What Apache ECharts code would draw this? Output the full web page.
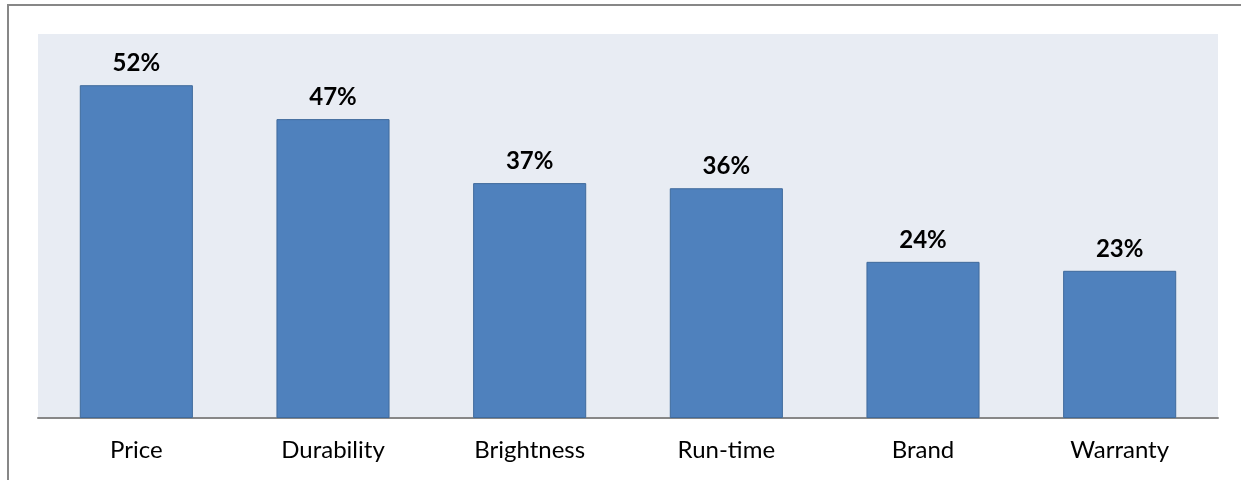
<!DOCTYPE html>
<html>
<head>
<meta charset="utf-8">
<script src="https://cdn.jsdelivr.net/npm/echarts@6/dist/echarts.min.js"></script>
<style>
  html, body { margin: 0; padding: 0; background: #ffffff; }
  #chart { width: 1241px; height: 480px; }
</style>
</head>
<body>
<div id="chart"></div>
<script>
const categories = ['Price', 'Durability', 'Brightness', 'Run-time', 'Brand', 'Warranty'];
const shares = [0.520, 0.467, 0.367, 0.359, 0.244, 0.230];

const chart = echarts.init(document.getElementById('chart'), null, { renderer: 'canvas' });
chart.setOption({
  animation: false,
  backgroundColor: '#ffffff',
  graphic: [{
    type: 'rect',
    shape: { x: 8, y: 5, width: 1300, height: 600 },
    style: { fill: 'none', stroke: '#878787', lineWidth: 2 },
    silent: true, z: -10
  }],
  grid: {
    left: 38, right: 23, top: 34, bottom: 62,
    show: true, backgroundColor: '#E8ECF3', borderWidth: 0
  },
  xAxis: {
    type: 'category',
    data: categories,
    axisLine: { show: true, lineStyle: { color: '#878787', width: 2 } },
    axisTick: { show: false },
    axisLabel: { color: '#000000', fontSize: 24, fontFamily: 'Lato', margin: 20 },
    splitLine: { show: false }
  },
  yAxis: {
    type: 'value', min: 0, max: 0.6, interval: 0.1,
    show: false, splitLine: { show: false }
  },
  series: [{
    type: 'bar',
    data: shares,
    barWidth: '57.5%',
    itemStyle: { color: '#4F81BD', borderColor: '#3F6A9C', borderWidth: 1 },
    label: {
      show: true, position: 'top', distance: 10,
      color: '#000000', fontWeight: 'bold', fontSize: 24, fontFamily: 'Lato',
      formatter: p => Math.round(p.value * 100) + '%'
    }
  }]
});
</script>
</body>
</html>
